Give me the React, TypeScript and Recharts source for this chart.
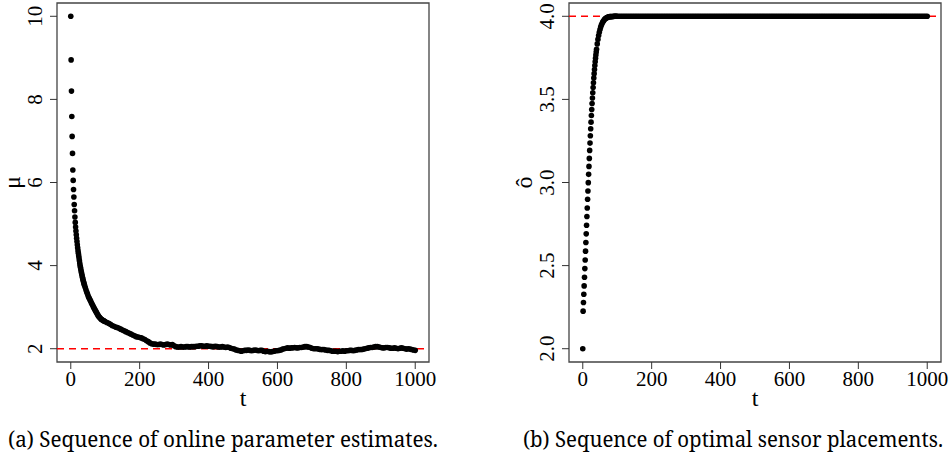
import React from "react";
import { ScatterChart, Scatter, XAxis, YAxis, ReferenceLine, ReferenceArea } from "recharts";

const TICK_FONT = { fontFamily: "Liberation Serif" };
const CAPTION_FONT = { fontFamily: "Noto Serif" };

// sampling grid of t (dense at the start where the dots are distinct)
const sampleTimes = (start: number, stop: number, step: number) => {
  const out: number[] = [];
  for (let t = start; t <= stop; t += step) out.push(t);
  return out;
};
const tEarly = sampleTimes(0, 40, 1);
const tMid = sampleTimes(42, 100, 2);
const tLate = sampleTimes(105, 1000, 5);

const tTicks = [0, 200, 400, 600, 800, 1000];
const muTicks = [2, 4, 6, 8, 10];
const deltaTicks = [2.0, 2.5, 3.0, 3.5, 4.0];

// (a) online parameter estimates
const muEarly = [
  10.0, 8.95, 8.2, 7.59, 7.11, 6.7, 6.3, 6.05, 5.83, 5.65, 5.47, 5.32, 5.17, 5.04, 4.93, 4.83, 4.74, 4.66, 4.58, 4.5,
  4.43, 4.36, 4.3, 4.24, 4.18, 4.12, 4.06, 4.01, 3.96, 3.92, 3.87, 3.83, 3.79, 3.75, 3.71, 3.68, 3.64, 3.61, 3.58, 3.55,
  3.52,
];
const muMid = [
  3.47, 3.42, 3.37, 3.33, 3.28, 3.24, 3.21, 3.17, 3.14, 3.1, 3.07, 3.04, 3.0, 2.97, 2.94, 2.91, 2.88, 2.85, 2.82, 2.79,
  2.77, 2.75, 2.73, 2.71, 2.7, 2.69, 2.68, 2.67, 2.66, 2.65,
];
const muLate = [
  2.63, 2.61, 2.59, 2.56, 2.54, 2.52, 2.51, 2.49, 2.47, 2.45,
  2.43, 2.41, 2.39, 2.37, 2.35, 2.33, 2.31, 2.29, 2.28, 2.27,
  2.26, 2.24, 2.22, 2.19, 2.17, 2.14, 2.12, 2.11, 2.11, 2.1,
  2.1, 2.11, 2.1, 2.09, 2.1, 2.11, 2.1, 2.09, 2.1, 2.07,
  2.05, 2.04, 2.04, 2.05, 2.04, 2.04, 2.05, 2.05, 2.04, 2.05,
  2.05, 2.05, 2.06, 2.06, 2.07, 2.07, 2.06, 2.06, 2.07, 2.06,
  2.06, 2.05, 2.05, 2.06, 2.05, 2.04, 2.04, 2.05, 2.04, 2.03,
  2.04, 2.03, 2.01, 2.0, 1.99, 1.97, 1.96, 1.95, 1.94, 1.95,
  1.96, 1.96, 1.97, 1.96, 1.95, 1.96, 1.97, 1.96, 1.95, 1.96,
  1.96, 1.94, 1.93, 1.94, 1.93, 1.92, 1.93, 1.94, 1.95, 1.95,
  1.96, 1.97, 1.99, 2.0, 2.01, 2.02, 2.01, 2.02, 2.02, 2.03,
  2.02, 2.02, 2.03, 2.03, 2.04, 2.05, 2.05, 2.04, 2.03, 2.01,
  2.0, 2.0, 2.0, 1.99, 1.98, 1.98, 1.98, 1.97, 1.96, 1.96,
  1.95, 1.94, 1.94, 1.94, 1.93, 1.94, 1.94, 1.95, 1.94, 1.95,
  1.95, 1.96, 1.96, 1.95, 1.96, 1.97, 1.98, 1.98, 1.98, 1.99,
  2.0, 2.01, 2.02, 2.03, 2.03, 2.04, 2.05, 2.05, 2.04, 2.03,
  2.02, 2.02, 2.03, 2.03, 2.02, 2.01, 2.01, 2.02, 2.01, 2.0,
  2.01, 2.02, 2.01, 2.0, 1.99, 2.0, 1.99, 1.98, 1.97, 1.96,
];

// (b) optimal sensor placements
const deltaEarly = [
  2.0, 2.226, 2.278, 2.328, 2.378, 2.43, 2.482, 2.534, 2.587, 2.639, 2.691, 2.743, 2.795, 2.847, 2.899, 2.949, 2.999,
  3.049, 3.097, 3.145, 3.193, 3.237, 3.281, 3.323, 3.363, 3.403, 3.439, 3.475, 3.508, 3.54, 3.571, 3.6, 3.628, 3.655,
  3.68, 3.704, 3.726, 3.747, 3.767, 3.785, 3.802,
];
const deltaMid = [
  3.834, 3.861, 3.884, 3.904, 3.921, 3.935, 3.947, 3.957, 3.965, 3.972, 3.978, 3.983, 3.987, 3.99, 3.992, 3.994, 3.996,
  3.997, 3.998, 3.998, 3.999, 3.999, 3.999, 3.999, 4.0, 4.0, 4.0, 4.0, 4.0, 4.0,
];
const deltaLate = [
  4.0, 4.0, 4.0, 4.0, 4.0, 4.0, 4.0, 4.0, 4.0, 4.0,
  4.0, 4.0, 4.0, 4.0, 4.0, 4.0, 4.0, 4.0, 4.0, 4.0,
  4.0, 4.0, 4.0, 4.0, 4.0, 4.0, 4.0, 4.0, 4.0, 4.0,
  4.0, 4.0, 4.0, 4.0, 4.0, 4.0, 4.0, 4.0, 4.0, 4.0,
  4.0, 4.0, 4.0, 4.0, 4.0, 4.0, 4.0, 4.0, 4.0, 4.0,
  4.0, 4.0, 4.0, 4.0, 4.0, 4.0, 4.0, 4.0, 4.0, 4.0,
  4.0, 4.0, 4.0, 4.0, 4.0, 4.0, 4.0, 4.0, 4.0, 4.0,
  4.0, 4.0, 4.0, 4.0, 4.0, 4.0, 4.0, 4.0, 4.0, 4.0,
  4.0, 4.0, 4.0, 4.0, 4.0, 4.0, 4.0, 4.0, 4.0, 4.0,
  4.0, 4.0, 4.0, 4.0, 4.0, 4.0, 4.0, 4.0, 4.0, 4.0,
  4.0, 4.0, 4.0, 4.0, 4.0, 4.0, 4.0, 4.0, 4.0, 4.0,
  4.0, 4.0, 4.0, 4.0, 4.0, 4.0, 4.0, 4.0, 4.0, 4.0,
  4.0, 4.0, 4.0, 4.0, 4.0, 4.0, 4.0, 4.0, 4.0, 4.0,
  4.0, 4.0, 4.0, 4.0, 4.0, 4.0, 4.0, 4.0, 4.0, 4.0,
  4.0, 4.0, 4.0, 4.0, 4.0, 4.0, 4.0, 4.0, 4.0, 4.0,
  4.0, 4.0, 4.0, 4.0, 4.0, 4.0, 4.0, 4.0, 4.0, 4.0,
  4.0, 4.0, 4.0, 4.0, 4.0, 4.0, 4.0, 4.0, 4.0, 4.0,
  4.0, 4.0, 4.0, 4.0, 4.0, 4.0, 4.0, 4.0, 4.0, 4.0,
];

const toPoints = (early: number[], mid: number[], late: number[]) => [
  ...tEarly.map((t, i) => ({ t, v: early[i] })),
  ...tMid.map((t, i) => ({ t, v: mid[i] })),
  ...tLate.map((t, i) => ({ t, v: late[i] })),
];

const muPoints = toPoints(muEarly, muMid, muLate);
const deltaPoints = toPoints(deltaEarly, deltaMid, deltaLate);

const Dot = (p: any) => <circle cx={p.cx} cy={p.cy} r={2.8} fill="#000" />;

type PanelProps = {
  left: number;
  yAxisWidth: number;
  marginRight: number;
  data: { t: number; v: number }[];
  yDomain: [number, number];
  yTicks: number[];
  fmt: (v: number) => string;
  refY: number;
  yLabel: string;
};

function Panel({ left, yAxisWidth, marginRight, data, yDomain, yTicks, fmt, refY, yLabel }: PanelProps) {
  return (
    <div style={{ position: "absolute", left, top: 0 }}>
      <ScatterChart width={475} height={458} margin={{ top: 3, right: marginRight, bottom: 56, left: 0 }}>
        <XAxis
          type="number"
          dataKey="t"
          domain={[-40, 1040]}
          ticks={tTicks}
          allowDataOverflow
          axisLine={false}
          tickSize={7}
          tickMargin={0}
          height={40}
          tickLine={{ stroke: "#333" }}
          tick={(p: any) => (
            <text x={p.x} y={p.y + 17} textAnchor="middle" fontSize={21} style={TICK_FONT} fill="#000">
              {p.payload.value}
            </text>
          )}
          label={{
            value: "t",
            content: ({ viewBox }: any) => (
              <text x={viewBox.x + viewBox.width / 2} y={viewBox.y + 44} textAnchor="middle" fontSize={24} style={TICK_FONT} fill="#000">
                t
              </text>
            ),
          }}
        />
        <YAxis
          type="number"
          dataKey="v"
          domain={yDomain}
          ticks={yTicks}
          allowDataOverflow
          axisLine={false}
          tickSize={7}
          tickMargin={0}
          width={yAxisWidth}
          tickLine={{ stroke: "#333" }}
          tick={(p: any) => (
            <text
              x={p.x - 8}
              y={p.y}
              textAnchor="middle"
              fontSize={21}
              style={TICK_FONT}
              fill="#000"
              transform={`rotate(-90, ${p.x - 8}, ${p.y})`}
            >
              {fmt(p.payload.value)}
            </text>
          )}
          label={{
            value: yLabel,
            content: ({ viewBox }: any) => {
              const cx = viewBox.x + yAxisWidth - 37;
              const cy = viewBox.y + viewBox.height / 2;
              return (
                <text x={cx} y={cy} textAnchor="middle" fontSize={24} style={TICK_FONT} fill="#000" transform={`rotate(-90, ${cx}, ${cy})`}>
                  {yLabel}
                </text>
              );
            },
          }}
        />
        <ReferenceArea x1={-40} x2={1040} y1={yDomain[0]} y2={yDomain[1]} fill="none" stroke="#444" strokeWidth={1.3} ifOverflow="visible" />
        <Scatter data={data} shape={Dot} isAnimationActive={false} />
        <ReferenceLine y={refY} stroke="#ff0000" strokeWidth={1.5} strokeDasharray="7 5" />
      </ScatterChart>
    </div>
  );
}

export default function App() {
  return (
    <div style={{ position: "absolute", left: 0, top: 0, width: 950, height: 458, background: "#fff" }}>
      <Panel
        left={0}
        yAxisWidth={57}
        marginRight={46}
        data={muPoints}
        yDomain={[1.68, 10.32]}
        yTicks={muTicks}
        fmt={(v) => String(v)}
        refY={2}
        yLabel="μ"
      />
      <Panel
        left={475}
        yAxisWidth={94}
        marginRight={9}
        data={deltaPoints}
        yDomain={[1.92, 4.08]}
        yTicks={deltaTicks}
        fmt={(v) => v.toFixed(1)}
        refY={4}
        yLabel="ô"
      />
      <svg width={950} height={458} style={{ position: "absolute", left: 0, top: 0, pointerEvents: "none" }}>
        <text x={8} y={447} fontSize={21} style={CAPTION_FONT} fill="#000" textLength={430} lengthAdjust="spacingAndGlyphs">
          (a) Sequence of online parameter estimates.
        </text>
        <text x={523} y={447} fontSize={21} style={CAPTION_FONT} fill="#000" textLength={420} lengthAdjust="spacingAndGlyphs">
          (b) Sequence of optimal sensor placements.
        </text>
      </svg>
    </div>
  );
}
